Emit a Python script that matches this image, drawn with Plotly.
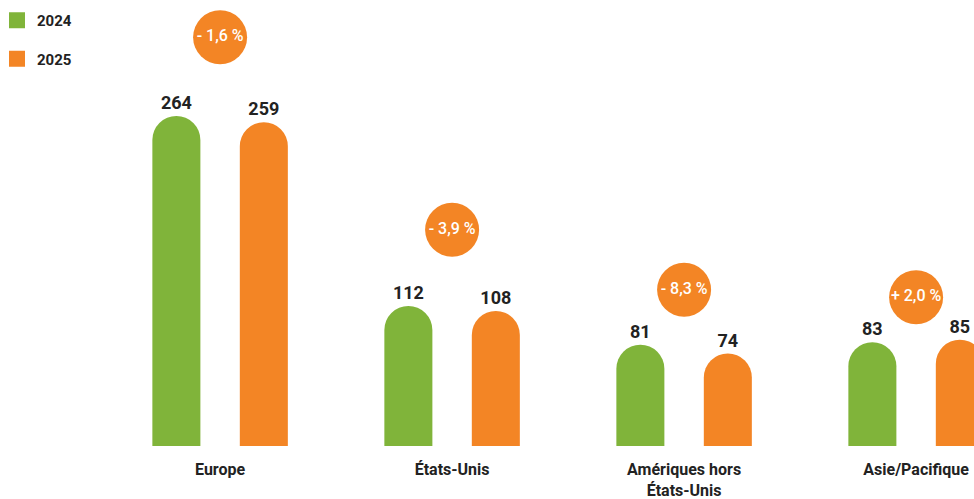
import plotly.graph_objects as go

categories = ["Europe", "États-Unis", "Amériques hors<br>États-Unis", "Asie/Pacifique"]
values_2024 = [264, 112, 81, 83]
values_2025 = [259, 108, 74, 85]
change_labels = ["- 1,6 %", "- 3,9 %", "- 8,3 %", "+ 2,0 %"]
change_bubble_y = [327, 173, 125, 119]

GREEN = "#80b43a"
ORANGE = "#f38525"
DARK = "#222222"
FONT = "Roboto"

FIG_W, FIG_H = 974, 499
PLOT_BOTTOM = 446          # px of the bar baseline
PX_PER_UNIT = 1.25
UNIT_PX = 232.0            # px between category centers
CENTER0_PX = 220.1         # px of first category center

xs = list(range(len(categories)))

fig = go.Figure()

for name, vals, col in [("2024", values_2024, GREEN), ("2025", values_2025, ORANGE)]:
    fig.add_trace(go.Bar(
        x=xs, y=vals, name=name, marker=dict(color=col, line=dict(width=0)),
        text=[str(v) for v in vals], textposition="outside",
        textfont=dict(family=FONT, size=18, color=DARK, weight=700),
        constraintext="none", cliponaxis=False, showlegend=False,
        hoverinfo="skip",
    ))

# legend entries with larger square keys
for name, col in [("2024", GREEN), ("2025", ORANGE)]:
    fig.add_trace(go.Scatter(
        x=[None], y=[None], mode="markers", name=name, legendgroup=name,
        marker=dict(symbol="square", size=17, color=col),
    ))

# change bubbles
fig.add_trace(go.Scatter(
    x=xs, y=change_bubble_y, mode="markers+text", text=change_labels,
    textposition="middle center",
    marker=dict(size=54, color=ORANGE, line=dict(width=0)),
    textfont=dict(family=FONT, size=16, color="white", weight=500),
    showlegend=False, cliponaxis=False, hoverinfo="skip",
))

fig.update_layout(
    width=FIG_W, height=FIG_H,
    margin=dict(l=0, r=0, t=0, b=FIG_H - PLOT_BOTTOM, autoexpand=False),
    paper_bgcolor="white", plot_bgcolor="white",
    barmode="group", bargap=0.246, bargroupgap=0.451,
    barcornerradius="50%",
    showlegend=True,
    legend=dict(x=-3 / FIG_W, y=1 - 4 / PLOT_BOTTOM, xanchor="left", yanchor="top",
                font=dict(family=FONT, size=15, color=DARK, weight=700),
                traceorder="grouped", tracegroupgap=16,
                itemwidth=30, bgcolor="rgba(0,0,0,0)"),
    xaxis=dict(range=[-CENTER0_PX / UNIT_PX, (FIG_W - CENTER0_PX) / UNIT_PX],
               tickmode="array", tickvals=xs, ticktext=categories,
               showgrid=False, zeroline=False, showline=False,
               ticks="", ticklabelstandoff=12,
               tickfont=dict(family=FONT, size=16, color=DARK, weight=700)),
    yaxis=dict(range=[0, PLOT_BOTTOM / PX_PER_UNIT], visible=False,
               showgrid=False, zeroline=False),
)

fig.write_html(
    "out.html",
    config={"displayModeBar": False},
    post_script="document.body.style.margin='0';document.body.style.overflow='hidden';",
)
